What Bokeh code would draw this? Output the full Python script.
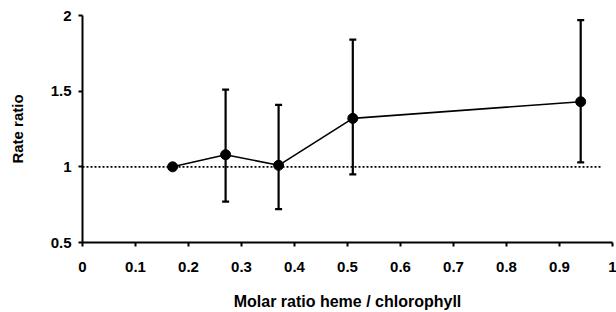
from bokeh.plotting import figure
from bokeh.models import Range1d, FixedTicker, Whisker, TeeHead, ColumnDataSource
from bokeh.embed import file_html
from bokeh.resources import INLINE

# data
x_vals = [0.17, 0.27, 0.37, 0.51, 0.94]
y_vals = [1.00, 1.08, 1.01, 1.32, 1.43]
y_upper = [1.00, 1.51, 1.41, 1.84, 1.97]
y_lower = [1.00, 0.77, 0.72, 0.95, 1.03]
ref_x = [0.0, 0.98]
ref_y = [1.0, 1.0]
x_ticks = [0, 0.1, 0.2, 0.3, 0.4, 0.5, 0.6, 0.7, 0.8, 0.9, 1]
x_labels = ["0", "0.1", "0.2", "0.3", "0.4", "0.5", "0.6", "0.7", "0.8", "0.9", "1"]
y_ticks = [0.5, 1, 1.5, 2]
y_labels = ["0.5", "1", "1.5", "2"]

FONT = "Liberation Sans"

p = figure(width=616, height=312, output_backend="svg", toolbar_location=None,
           x_range=Range1d(0, 1), y_range=Range1d(0.5, 2),
           min_border_left=82, min_border_right=4, min_border_top=15, min_border_bottom=69)
p.outline_line_color = None
p.grid.visible = False
p.background_fill_color = "white"
p.border_fill_color = "white"

# reference dotted line
p.line(ref_x, ref_y, line_color="black", line_width=1.8, line_dash="2 2")

src = ColumnDataSource(dict(x=x_vals, y=y_vals, upper=y_upper, lower=y_lower))
w = Whisker(source=src, base="x", upper="upper", lower="lower", dimension="height",
            line_color="black", line_width=2.2,
            upper_head=TeeHead(size=7, line_width=2.2, line_color="black"),
            lower_head=TeeHead(size=7, line_width=2.2, line_color="black"))
p.add_layout(w)

p.line("x", "y", source=src, line_color="black", line_width=1.6)
p.scatter("x", "y", source=src, size=10, fill_color="black", line_color="black")

for ax in (p.xaxis[0], p.yaxis[0]):
    ax.axis_line_width = 2
    ax.major_tick_line_width = 2
    ax.major_tick_out = 4
    ax.major_tick_in = 0
    ax.minor_tick_line_color = None
    ax.major_label_text_font = FONT
    ax.major_label_text_font_style = "bold"
    ax.major_label_text_font_size = "15px"
    ax.major_label_text_color = "black"
    ax.axis_label_text_font = FONT
    ax.axis_label_text_font_style = "bold"
    ax.axis_label_text_color = "black"
    ax.axis_line_color = "black"
    ax.major_tick_line_color = "black"

p.xaxis.ticker = FixedTicker(ticks=x_ticks)
p.xaxis.major_label_overrides = {t: l for t, l in zip(x_ticks, x_labels)}
p.xaxis.major_label_standoff = 15
p.xaxis.axis_label = "Molar ratio heme / chlorophyll"
p.xaxis.axis_label_text_font_size = "16px"
p.xaxis.axis_label_standoff = 18

p.yaxis.ticker = FixedTicker(ticks=y_ticks)
p.yaxis.major_label_overrides = {t: l for t, l in zip(y_ticks, y_labels)}
p.yaxis.major_label_standoff = 7
p.yaxis.axis_label = "Rate ratio"
p.yaxis.axis_label_text_font_size = "15px"
p.yaxis.axis_label_standoff = 22

open("out.html", "w").write(file_html(p, INLINE))
